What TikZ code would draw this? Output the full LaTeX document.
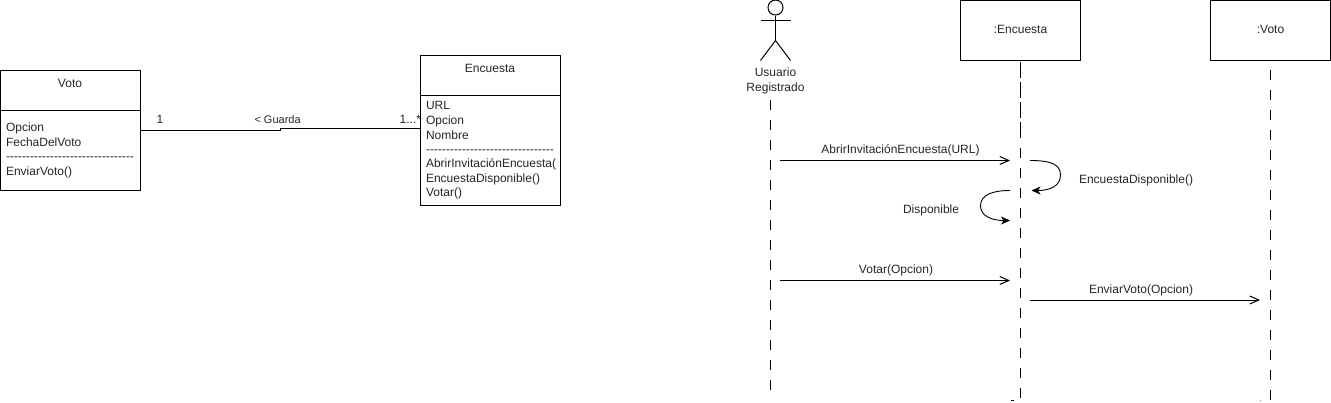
\documentclass[tikz,border=0pt]{standalone}
\usepackage{fontspec}
\setmainfont{Liberation Sans}
\usetikzlibrary{arrows.meta}
\newcommand{\hyphenrule}{-{}-{}-{}-{}-{}-{}-{}-{}-{}-{}-{}-{}-{}-{}-{}-{}-{}-{}-{}-{}-{}-{}-{}-{}-{}-{}-{}-{}-{}-{}-{}-{}}
\tikzset{
  boxed/.style={draw=black,line width=1pt,inner sep=0pt,fill=white},
  txt/.style={inner sep=0pt,outer sep=0pt,font=\fontsize{12}{15}\selectfont,text=black!85},
  txtl/.style={txt,anchor=base west},
  txtc/.style={txt,anchor=base},
  txtr/.style={txt,anchor=base east},
  conn/.style={draw=black,line width=1pt},
  life/.style={draw=black,line width=1pt,dash pattern=on 10pt off 10pt},
  lifelong/.style={draw=black,line width=1pt,dash pattern=on 16pt off 4pt},
  msg/.style={conn,-{Straight Barb[length=9pt,width=8pt,line width=1pt]}},
  self/.style={conn,line width=.9pt,-{Stealth[length=9pt,width=8pt,inset=2.5pt]}},
}
\begin{document}
\begin{tikzpicture}[x=1pt,y=-1pt]
\useasboundingbox (0,0) rectangle (1331,402);
\fill[white] (0,0) rectangle (1331,402);
% class diagram
\node[boxed,minimum width=140pt,minimum height=120pt] (voto) at (70.5,130.5) {};
\coordinate (votoA) at (0.5,110.5);
\coordinate (votoB) at (140.5,110.5);
\draw[conn] (votoA) -- (votoB);
\node[txtc] (votoT) at (70,87) {Voto};
\node[txtl] (v1) at (6,131) {Opcion};
\node[txtl] (v2) at (6,146) {FechaDelVoto};
\node[txtl] (v3) at (6,160) {\hyphenrule};
\node[txtl] (v4) at (6,175) {EnviarVoto()};
\node[boxed,minimum width=140pt,minimum height=150pt] (enc) at (490.5,130.5) {};
\coordinate (encA) at (420.5,95.5);
\coordinate (encB) at (560.5,95.5);
\draw[conn] (encA) -- (encB);
\node[txtc] (encT) at (490,72) {Encuesta};
\node[txtl] (e1) at (426,109) {URL};
\node[txtl] (e2) at (426,124) {Opcion};
\node[txtl] (e3) at (426,139) {Nombre};
\node[txtl] (e4) at (426,153) {\hyphenrule};
\node[txtl] (e5) at (426,167) {AbrirInvitaciónEncuesta(};
\node[txtl] (e6) at (426,182) {EncuestaDisponible()};
\node[txtl] (e7) at (426,196) {Votar()};
\coordinate (asocA) at (140.5,130);
\coordinate (asocB) at (280,130);
\coordinate (asocC) at (280,128.5);
\coordinate (asocD) at (420.5,128.5);
\draw[conn,line join=round] (asocA) -- (asocB) -- (asocC) -- (asocD);
\node[txtc] (m1) at (160,123) {1};
\node[txtl,font=\fontsize{11}{13}\selectfont] (guarda) at (254.5,123) {< Guarda};
\node[txtr] (mn) at (421,123) {1...*};
% actor
\coordinate (headC) at (775.5,7.5);
\coordinate (neck) at (775.5,15.5);
\coordinate (hip) at (775.5,40.5);
\coordinate (armL) at (760.5,20.5);
\coordinate (armR) at (790.5,20.5);
\coordinate (legL) at (760.5,60.5);
\coordinate (legR) at (790.5,60.5);
\draw[conn] (headC) circle (7.5pt);
\draw[conn] (neck) -- (hip);
\draw[conn] (armL) -- (armR);
\draw[conn] (legL) -- (hip) -- (legR);
\node[txtc] (ua) at (775.5,76) {Usuario};
\node[txtc] (ub) at (775.5,91) {Registrado};
% lifeline heads
\node[boxed,minimum width=120pt,minimum height=60pt] (lenc) at (1020.5,30.5) {};
\node[txtc] (lencT) at (1020.5,33) {:Encuesta};
\node[boxed,minimum width=120pt,minimum height=60pt] (lvoto) at (1270.5,30.5) {};
\node[txtc] (lvotoT) at (1270.5,33) {:Voto};
% lifelines
\coordinate (lu1) at (770.5,100);
\coordinate (lu2) at (770.5,390);
\draw[life] (lu1) -- (lu2);
\coordinate (le1) at (1020.5,62);
\coordinate (le2) at (1020.5,138);
\coordinate (le3) at (1020.5,148);
\coordinate (le4) at (1020.5,398);
\draw[lifelong] (le1) -- (le2);
\draw[life] (le3) -- (le4);
\coordinate (lv1) at (1270.5,70);
\coordinate (lv2) at (1270.5,400);
\draw[life] (lv1) -- (lv2);
% messages
\coordinate (a1) at (780,160.5);
\coordinate (a2) at (1010,160.5);
\draw[msg] (a1) -- (a2);
\node[txtc] (a1t) at (900.5,153) {AbrirInvitaciónEncuesta(URL)};
\coordinate (b1) at (1030,160.5);
\coordinate (b2) at (1031.5,190.5);
\draw[self] (b1) .. controls (1050,160.5) and (1060.5,164) .. (1060.5,175) .. controls (1060.5,186) and (1050,190.5) .. (b2);
\node[txtl] (b1t) at (1079,183) {EncuestaDisponible()};
\coordinate (c1) at (1010,190.5);
\coordinate (c2) at (1010,220.5);
\draw[self] (c1) .. controls (992,190.5) and (980.5,195) .. (980.5,206) .. controls (980.5,216) and (992,220.5) .. (c2);
\node[txtl] (c1t) at (903,213) {Disponible};
\coordinate (d1) at (780,280.5);
\coordinate (d2) at (1010,280.5);
\draw[msg] (d1) -- (d2);
\node[txtc] (d1t) at (896,273) {Votar(Opcion)};
\coordinate (f1) at (1030,300);
\coordinate (f2) at (1260,300);
\draw[msg] (f1) -- (f2);
\node[txtl] (f1t) at (1089,293) {EnviarVoto(Opcion)};
% clipped remnants at the bottom edge
\coordinate (s1) at (1011,400.5);
\coordinate (s2) at (1013.5,400.5);
\coordinate (s3) at (1260,400.5);
\coordinate (s4) at (1261,400.5);
\draw[conn] (s1) -- (s2);
\draw[conn,draw=gray] (s3) -- (s4);
\end{tikzpicture}
\end{document}
